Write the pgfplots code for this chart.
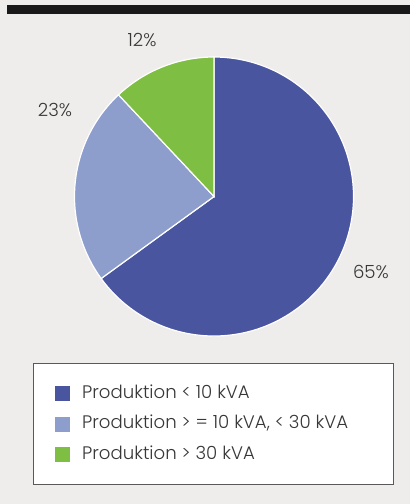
\documentclass[border=0pt]{standalone}
\usepackage{pgfplots}
\pgfplotsset{compat=1.18}
\usepackage{fontspec}
\setmainfont{Poppins}[UprightFont=* Light]
\definecolor{cA}{RGB}{74,85,160}
\definecolor{cB}{RGB}{141,157,204}
\definecolor{cC}{RGB}{126,190,66}
\definecolor{bgc}{RGB}{238,237,235}
\definecolor{txt}{RGB}{55,55,55}
% shares in percent
\def\sA{65}\def\sB{23}\def\sC{12}
\pgfmathsetmacro\aZ{90}
\pgfmathsetmacro\aA{90-3.6*\sA}
\pgfmathsetmacro\aB{\aA-3.6*\sB}
\pgfmathsetmacro\aC{\aB-3.6*\sC}
\begin{document}
\begin{tikzpicture}
\begin{axis}[
  x=139.5bp, y=139.5bp,
  xmin=-1.534, xmax=1.405, ymin=-2.204, ymax=1.4086,
  hide axis, clip=false,
  legend cell align=left,
  legend image code/.code={\fill[#1,draw=none] (0bp,-7.5bp) rectangle (15bp,7.5bp);},
  legend style={at={(52/410,0.2381)}, anchor=north west, draw=none, fill=none,
    font=\fontsize{18.2}{21}\selectfont, text=txt, row sep=15.5bp,
    nodes={inner sep=0pt, text height=12bp, text depth=3bp},
    /tikz/every odd column/.append style={column sep=12bp}},
]
\fill[bgc] (rel axis cs:0,0) rectangle (rel axis cs:1,1);
\fill[black!90] (rel axis cs:7/410,{(504-14)/504}) rectangle (rel axis cs:1,{(504-5)/504});
\draw[black!65, line width=0.9bp, fill=white] (rel axis cs:33/410,{20/504}) rectangle (rel axis cs:393/410,{141/504});
\addplot[fill=cA, draw=white, line width=1.2bp, domain=\aZ:\aA, samples=150, variable=\t] ({cos(\t)},{sin(\t)}) -- (axis cs:0,0) -- cycle;
\addlegendentry{Produktion < 10 kVA}
\addplot[fill=cB, draw=white, line width=1.2bp, domain=\aA:\aB, samples=60, variable=\t] ({cos(\t)},{sin(\t)}) -- (axis cs:0,0) -- cycle;
\addlegendentry{Produktion > = 10 kVA, < 30 kVA}
\addplot[fill=cC, draw=white, line width=1.2bp, domain=\aB:\aC, samples=40, variable=\t] ({cos(\t)},{sin(\t)}) -- (axis cs:0,0) -- cycle;
\addlegendentry{Produktion > 30 kVA}
\node[text=txt, font=\fontsize{18.2}{21}\selectfont] at (axis cs:-0.516,1.122) {12\%};
\node[text=txt, font=\fontsize{18.2}{21}\selectfont] at (axis cs:-1.140,0.620) {23\%};
\node[text=txt, font=\fontsize{18.2}{21}\selectfont] at (axis cs:1.125,-0.541) {65\%};
\end{axis}
\end{tikzpicture}
\end{document}
